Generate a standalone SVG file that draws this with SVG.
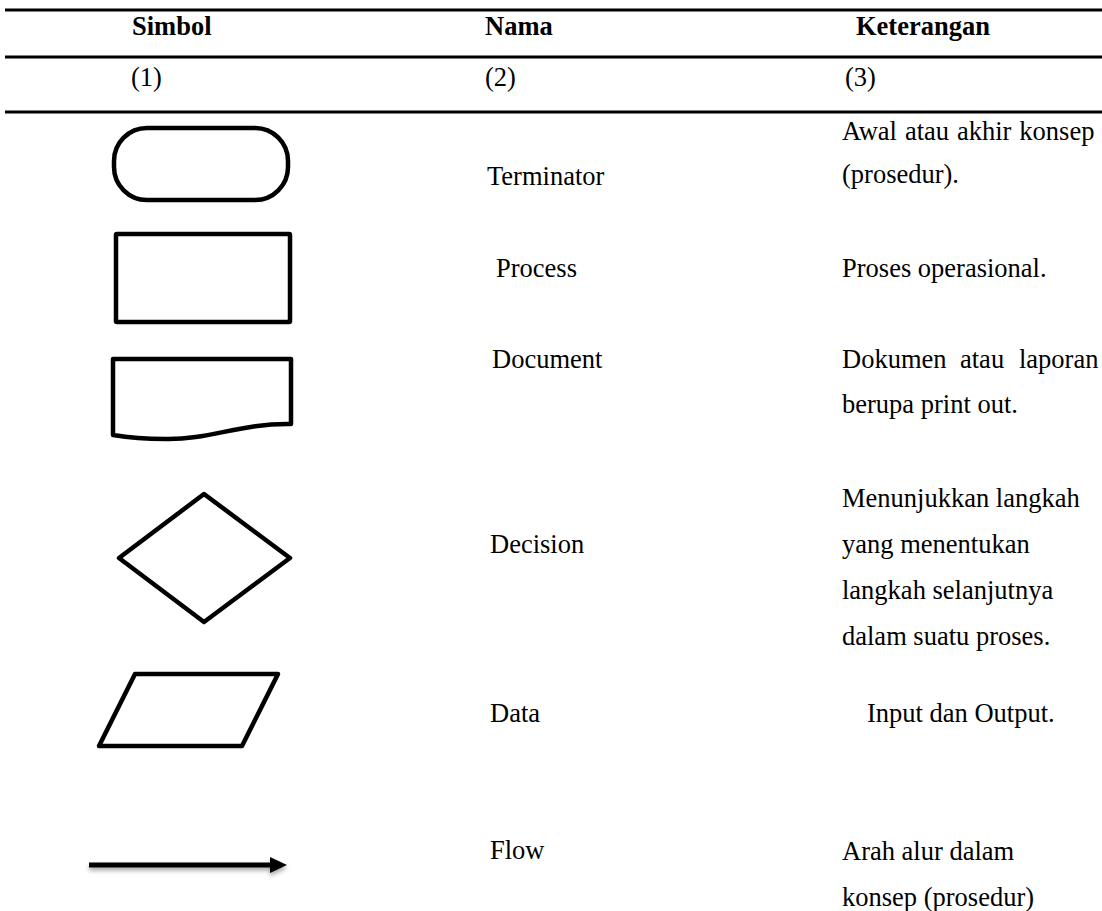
<svg xmlns="http://www.w3.org/2000/svg" width="1102" height="911" viewBox="0 0 1102 911">
<style>
text{font-family:"Liberation Serif","Times New Roman",serif;font-size:26.5px;fill:#000}
.h{font-weight:bold}
.rule{stroke:#000;stroke-width:3}
.shape{fill:none;stroke:#000;stroke-width:4.5;stroke-linejoin:round}
</style>
<defs>
<filter id="sh" x="-10%" y="-200%" width="120%" height="500%">
<feDropShadow dx="0" dy="3" stdDeviation="2" flood-color="#000" flood-opacity="0.35"/>
</filter>
</defs>
<rect width="1102" height="911" fill="#fff"/>
<g id="table-rules">
<line class="rule" x1="5" y1="10" x2="1102" y2="10"/>
<line class="rule" x1="5" y1="57" x2="1102" y2="57"/>
<line class="rule" x1="5" y1="112" x2="1102" y2="112"/>
</g>
<g id="header">
<text class="h" x="132" y="35">Simbol</text>
<text class="h" x="485" y="35">Nama</text>
<text class="h" x="856" y="35">Keterangan</text>
<text x="131" y="86">(1)</text>
<text x="485" y="86">(2)</text>
<text x="845" y="86">(3)</text>
</g>
<g id="terminator">
<rect class="shape" x="114" y="128" width="174" height="72" rx="33" ry="33"/>
<text x="487" y="185">Terminator</text>
<text x="842" y="140" word-spacing="1.3">Awal atau akhir konsep</text>
<text x="842" y="183">(prosedur).</text>
</g>
<g id="process">
<rect class="shape" x="116" y="234" width="174" height="88" rx="1"/>
<text x="496" y="277">Process</text>
<text x="842" y="277">Proses operasional.</text>
</g>
<g id="document">
<path class="shape" d="M113,359 H291 V424 C240,423 210,440 165,439 C140,439 125,437 113,435 Z"/>
<text x="492" y="368">Document</text>
<text y="368"><tspan x="842">Dokumen</tspan><tspan x="960">atau</tspan><tspan x="1019">laporan</tspan></text>
<text x="842" y="413">berupa print out.</text>
</g>
<g id="decision">
<path class="shape" d="M204,494 L290,558 L204,622 L119,558 Z"/>
<text x="490" y="553">Decision</text>
<text x="842" y="507">Menunjukkan langkah</text>
<text x="842" y="553">yang menentukan</text>
<text x="842" y="599">langkah selanjutnya</text>
<text x="842" y="645">dalam suatu proses.</text>
</g>
<g id="data">
<path class="shape" d="M135,674 L278,674 L242,746 L99,746 Z"/>
<text x="490" y="722">Data</text>
<text x="867" y="722">Input dan Output.</text>
</g>
<g id="connectors">
<g id="flow" filter="url(#sh)">
<line x1="89" y1="865" x2="272" y2="865" stroke="#000" stroke-width="5"/>
<polygon points="270,857 287,865 270,873" fill="#000"/>
</g>
</g>
<g id="flow-text">
<text x="490" y="859">Flow</text>
<text x="842" y="860">Arah alur dalam</text>
<text x="842" y="906">konsep (prosedur)</text>
</g>
</svg>
